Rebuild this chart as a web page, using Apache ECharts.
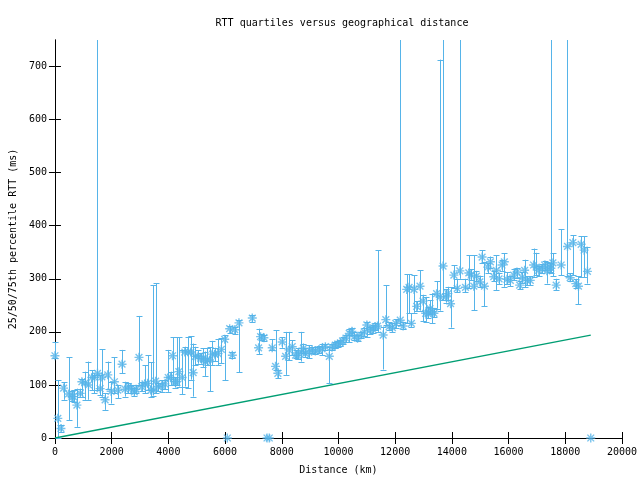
<!DOCTYPE html>
<html><head><meta charset="utf-8">
<script src="https://cdn.jsdelivr.net/npm/echarts@6/dist/echarts.min.js"></script>
<style>html,body{margin:0;padding:0;background:#fff}#c{width:640px;height:480px}</style>
</head><body><div id="c"></div>
<script>
const dist = [0,100,211,305,480,597,656,773,890,949,1066,1183,1300,1394,1500,1593,1652,1769,1863,1980,2097,2214,2366,2472,2589,2683,2800,2858,2964,3058,3175,3269,3386,3470,3550,3640,3760,3877,3994,4076,4147,4230,4288,4370,4487,4581,4698,4792,4874,4956,5050,5144,5226,5308,5378,5460,5554,5636,5753,5870,5987,6080,6163,6257,6339,6491,6960,7183,7253,7370,7480,7560,7663,7780,7862,8015,8136,8253,8370,8487,8565,8682,8764,8835,8952,9069,9186,9303,9420,9538,9678,9772,9889,9971,10065,10147,10264,10381,10475,10557,10674,10791,10909,11002,11108,11202,11296,11378,11577,11671,11788,11905,12022,12180,12280,12408,12490,12573,12666,12760,12877,12982,13076,13158,13228,13310,13368,13462,13580,13690,13778,13860,13954,14071,14188,14282,14481,14598,14680,14774,14868,14985,15067,15149,15266,15360,15477,15571,15665,15770,15852,15946,16063,16180,16297,16391,16473,16567,16649,16766,16883,16977,17059,17176,17270,17352,17446,17493,17563,17680,17856,18079,18173,18267,18373,18466,18560,18666,18783,18900];
const median = [155,37,18,94,83,78,78,62,84,106,104,100,114,114,122,93,115,72,119,88,106,90,139,92,97,93,87,92,152,97,102,103,90,90,107,97,98,102,114,114,155,106,106,125,114,162,162,162,123,154,154,150,150,144,147,147,158,158,159,167,186,0,206,156,204,217,226,170,191,189,0,0,170,135,122,181,154,166,172,156,156,162,169,159,162,166,164,166,168,172,154,171,175,177,179,183,188,197,201,191,188,194,200,213,203,205,210,211,194,223,210,208,216,222,211,280,284,216,280,248,286,258,235,235,244,238,235,272,266,324,266,272,253,307,282,315,284,311,307,286,305,294,341,286,322,332,304,316,300,326,332,299,297,307,313,288,302,316,297,297,326,322,316,319,326,315,322,320,330,288,326,361,302,368,291,286,365,354,314,0];
const q25 = [150,0,12,72,34,70,68,21,78,78,72,72,90,84,90,81,78,53,93,65,84,75,122,78,84,85,80,85,100,88,84,90,78,80,85,88,87,92,87,100,100,95,100,97,83,97,94,110,78,137,140,140,134,117,137,88,137,145,137,141,109,0,197,150,196,124,219,158,185,183,0,0,166,128,113,170,119,147,156,150,148,144,160,152,150,160,158,160,156,165,103,165,170,172,173,178,181,181,195,185,182,188,192,191,196,198,203,200,129,213,204,200,208,213,205,216,235,210,236,240,240,220,219,226,233,216,228,244,240,260,255,260,208,282,275,300,275,282,298,241,295,285,329,248,310,320,295,279,290,315,285,290,286,298,302,280,293,284,288,288,304,307,305,310,316,291,312,310,305,279,307,305,295,307,283,252,303,303,291,0];
const q75 = [181,109,25,105,152,88,90,93,93,112,125,144,128,119,1200,119,167,84,144,106,152,100,166,106,103,100,95,100,230,105,137,156,143,288,292,103,109,110,166,125,190,115,190,190,166,172,191,192,178,172,165,160,169,163,169,171,183,170,186,188,194,0,211,162,210,222,232,206,196,195,0,0,186,203,128,190,200,200,184,165,170,200,178,170,175,172,172,173,178,178,172,177,180,183,185,190,195,206,208,200,195,200,208,219,210,213,216,354,210,288,218,216,224,1200,218,309,309,235,307,258,316,270,266,246,260,272,245,295,713,1200,280,285,284,326,300,1200,300,344,318,344,315,305,354,332,330,342,315,344,310,335,348,312,305,318,320,296,312,336,305,305,357,349,325,328,334,332,330,1200,348,300,393,1200,310,382,300,305,380,380,360,0];
const lineX = [0, 18900];
const lineY = [0, 194];
const yTicks = [0, 100, 200, 300, 400, 500, 600, 700];
const xTicks = [0, 2000, 4000, 6000, 8000, 10000, 12000, 14000, 16000, 18000, 20000];

const BLUE = '#56b4e9';
const GREEN = '#009e73';
const FONT = 'DejaVu Sans Mono';

const barData = dist.map((d, i) => [d, q25[i], q75[i]]);
const ptData = dist.map((d, i) => [d, median[i]]);
const lineData = lineX.map((d, i) => [d, lineY[i]]);

const chart = echarts.init(document.getElementById('c'), null, {renderer: 'canvas'});
const axisLine = {show: true, lineStyle: {color: '#000', width: 1}};
const lbl = {fontFamily: FONT, fontSize: 10, color: '#000'};
function xAx(pos, showLbl) {
  return {type: 'value', min: 0, max: 20000, interval: 2000, position: pos,
    axisLine: axisLine, splitLine: {show: false},
    axisTick: {show: true, inside: true, length: 6, lineStyle: {color: '#000'}, customValues: xTicks},
    axisLabel: showLbl ? Object.assign({margin: 9, customValues: xTicks, formatter: v => String(v)}, lbl) : {show: false}};
}
function yAx(pos, showLbl) {
  return {type: 'value', min: 0, max: 750, interval: 100, position: pos,
    axisLine: axisLine, splitLine: {show: false},
    axisTick: {show: true, inside: true, length: 6, lineStyle: {color: '#000'}, customValues: yTicks},
    axisLabel: showLbl ? Object.assign({margin: 8, customValues: yTicks, formatter: v => String(v)}, lbl) : {show: false}};
}
const xa0 = xAx('bottom', true);
Object.assign(xa0, {name: 'Distance (km)', nameLocation: 'middle', nameGap: 27, nameTextStyle: lbl});
const ya0 = yAx('left', true);
Object.assign(ya0, {name: '25/50/75th percentile RTT (ms)', nameLocation: 'middle', nameGap: 36, nameRotate: 90, nameTextStyle: lbl});

chart.setOption({
  animation: false,
  backgroundColor: '#fff',
  title: {text: 'RTT quartiles versus geographical distance', left: 337, top: 13, textAlign: 'center',
    textStyle: {fontFamily: FONT, fontSize: 10, fontWeight: 'normal', color: '#000'}},
  grid: {left: 53, right: 18, top: 40, bottom: 42},
  xAxis: [xa0, xAx('top', false)],
  yAxis: [ya0, yAx('right', false)],
  series: [
    {
      type: 'custom', xAxisIndex: 0, yAxisIndex: 0, data: barData, z: 2,
      renderItem: function (params, api) {
        const x = api.value(0), lo = api.value(1), hi = api.value(2);
        if (lo === 0 && hi === 0) return null;
        const pLo = api.coord([x, lo]);
        const pHi = api.coord([x, hi]);
        const cs = params.coordSys;
        const top = cs.y, bottom = cs.y + cs.height;
        const xp = Math.round(pLo[0]) + 0.5;
        const y1 = Math.min(pLo[1], bottom), y2 = Math.max(pHi[1], top);
        const st = {stroke: BLUE, lineWidth: 1, fill: null};
        const ch = [{type: 'line', shape: {x1: xp, y1: y1, x2: xp, y2: y2}, style: st}];
        const w = 3;
        if (pLo[1] <= bottom) { const yy = Math.round(pLo[1]) + 0.5; ch.push({type: 'line', shape: {x1: xp - w, y1: yy, x2: xp + w, y2: yy}, style: st}); }
        if (pHi[1] >= top) { const yy = Math.round(pHi[1]) + 0.5; ch.push({type: 'line', shape: {x1: xp - w, y1: yy, x2: xp + w, y2: yy}, style: st}); }
        return {type: 'group', children: ch};
      }
    },
    {
      type: 'scatter', xAxisIndex: 0, yAxisIndex: 0, data: ptData, z: 3,
      symbol: 'path://M0,-1L0,1M-1,0L1,0M-0.75,-0.75L0.75,0.75M-0.75,0.75L0.75,-0.75',
      symbolSize: 9,
      itemStyle: {color: 'rgba(0,0,0,0)', borderColor: BLUE, borderWidth: 1.4}
    },
    {
      type: 'line', xAxisIndex: 0, yAxisIndex: 0, data: lineData, z: 2,
      symbol: 'none', lineStyle: {color: GREEN, width: 1.3}
    }
  ]
});
</script></body></html>
